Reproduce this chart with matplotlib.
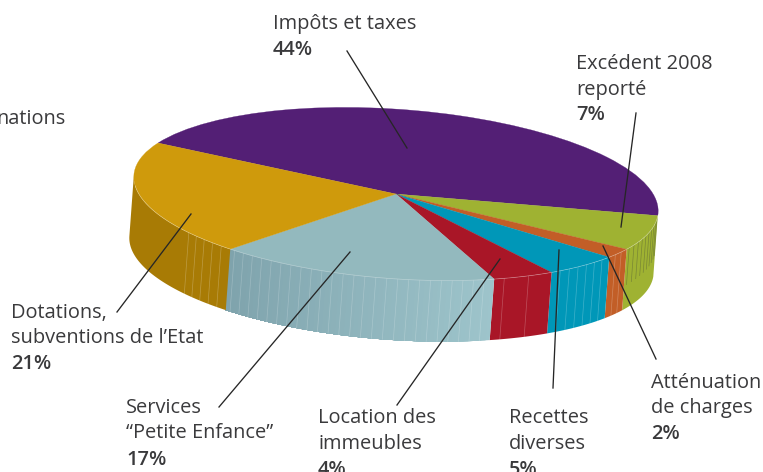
import numpy as np
import matplotlib
matplotlib.use('Agg')
import matplotlib.pyplot as plt
from matplotlib.colors import to_rgb
from matplotlib.patches import Wedge, Polygon
from matplotlib.transforms import Affine2D

# parts of the pie, in drawing order from the start of the purple slice
names = ['Impôts et taxes', 'Excédent 2008', 'Atténuation de charges', 'Recettes diverses',
         'Location des immeubles', 'Services Petite Enfance', 'Dotations, subventions']
shares = [44, 7, 2, 5, 4, 17, 21]
top_colors = ['#531F75', '#9FB232', '#C25E27', '#0097B8', '#A91627', '#93B9BE', '#CF9A0C']
side_left = ['#531F75', '#9FB232', '#C25E27', '#0097B8', '#A91627', '#9DC4CB', '#A87B05']
side_right = ['#531F75', '#9FB232', '#C25E27', '#0097B8', '#A91627', '#7FA3AC', '#A87B05']

# facet lines on the side: step and span in degrees, colour, alpha, share of the depth
facet_step = [0, 2.4, 2.4, 2.6, 6, 2.4, 2.6]
facet_span = [0, 25.2, 7.2, 18, 14.4, 61.2, 15]
facet_color = ['white', '#5f6a35', 'white', 'white', 'white', 'white', 'white']
facet_alpha = [0, 0.6, 0.25, 0.25, 0.25, 0.22, 0.25]
facet_len = [0, 0.6, 1, 1, 1, 1, 1]

# the tilted disc: unit circle -> pixels
pie_matrix = (-238, -51, 110, -70, 396, 194)
depth = (-4.5, 61)

# label lines: x, baseline, text, bold
label_lines = [
    (273, 29, 'Impôts et taxes', False), (273, 55, '44%', True),
    (576, 69, 'Excédent 2008', False), (576, 95, 'reporté', False), (576, 120, '7%', True),
    (651, 388, 'Atténuation', False), (651, 413, 'de charges', False), (651, 439, '2%', True),
    (509, 423, 'Recettes', False), (509, 449, 'diverses', False), (509, 475, '5%', True),
    (318, 423, 'Location des', False), (318, 449, 'immeubles', False), (318, 475, '4%', True),
    (126, 413, 'Services', False), (126, 438, '“Petite Enfance”', False), (126, 465, '17%', True),
    (11, 318, 'Dotations,', False), (11, 343, 'subventions de l’Etat', False), (11, 369, '21%', True),
]

# leader lines
leaders = [
    ((347, 51), (407, 148)),
    ((636, 113), (621, 227)),
    ((656, 359), (603, 246)),
    ((553, 388), (559, 250)),
    ((397, 405), (500, 259)),
    ((219, 407), (350, 252)),
    ((117, 312), (191, 214)),
]

txt_color = '#3a3a3c'
font = 'Open Sans'

fig = plt.figure(figsize=(7.63, 4.72), dpi=100)
ax = fig.add_axes([0, 0, 1, 1])
ax.set_xlim(0, 763)
ax.set_ylim(472, 0)
ax.axis('off')

pie_tf = Affine2D.from_values(*pie_matrix)


def rim(theta):
    t = np.radians(theta)
    return pie_tf.transform(np.column_stack([np.cos(t), np.sin(t)]))


edges = np.concatenate([[0], np.cumsum(shares)]) * 3.6

# where the rim runs parallel to the depth: the wall is hidden past that angle
ma, mb, mc, md = pie_matrix[0], pie_matrix[1], pie_matrix[2], pie_matrix[3]
sil = np.degrees(np.arctan2(-(mc * depth[1] - md * depth[0]), -(ma * depth[1] - mb * depth[0]))) % 360
sil = sil if sil > 180 else sil + 180

# side wall first, the top covers what is hidden
for i in range(1, len(shares)):
    end = min(edges[i + 1], sil)
    th = np.linspace(edges[i], end, int((end - edges[i])) + 2)
    pts = rim(th)
    c0 = np.array(to_rgb(side_left[i]))
    c1 = np.array(to_rgb(side_right[i]))
    # each piece runs to the end of the slice and the next paints over it, so no seams
    n_pieces = len(th) - 1 if side_left[i] != side_right[i] else 1
    for j in range(n_pieces):
        wall = np.vstack([pts[j:], (pts[j:] + depth)[::-1]])
        col = c0 + (c1 - c0) * j / max(n_pieces - 1, 1)
        ax.add_patch(Polygon(wall, closed=True, fc=col, ec='none', zorder=1))
    if facet_step[i] > 0:
        for t0 in np.arange(edges[i] + facet_step[i], edges[i] + facet_span[i], facet_step[i]):
            p = rim(np.array([t0]))[0]
            ax.plot([p[0], p[0] + depth[0] * facet_len[i]], [p[1], p[1] + depth[1] * facet_len[i]],
                    color=facet_color[i], lw=0.5, alpha=facet_alpha[i], zorder=2)

# top of the pie
for i in range(len(shares)):
    w = Wedge((0, 0), 1, edges[i], edges[i + 1], fc=top_colors[i], ec=top_colors[i], lw=0.2,
              transform=pie_tf + ax.transData, zorder=3)
    ax.add_patch(w)

# thin line along the front rim
th = np.arange(edges[1], 330, 1.0)
pts = rim(th)
ax.plot(pts[:, 0], pts[:, 1], color='white', lw=0.5, alpha=0.35, zorder=4)

for a, b in leaders:
    ax.plot([a[0], b[0]], [a[1], b[1]], color='#262626', lw=0.95, zorder=5)

for x, y, s, bold in label_lines:
    ax.text(x, y, s, family=font, fontsize=14.4, color=txt_color, va='baseline', ha='left',
            fontweight='semibold' if bold else 'normal', clip_on=True, zorder=6)
ax.text(65, 123.5, 'nations', family=font, fontsize=14.4, color=txt_color, va='baseline', ha='right',
        clip_on=True, zorder=6)

fig.savefig('out.png', dpi=100)
